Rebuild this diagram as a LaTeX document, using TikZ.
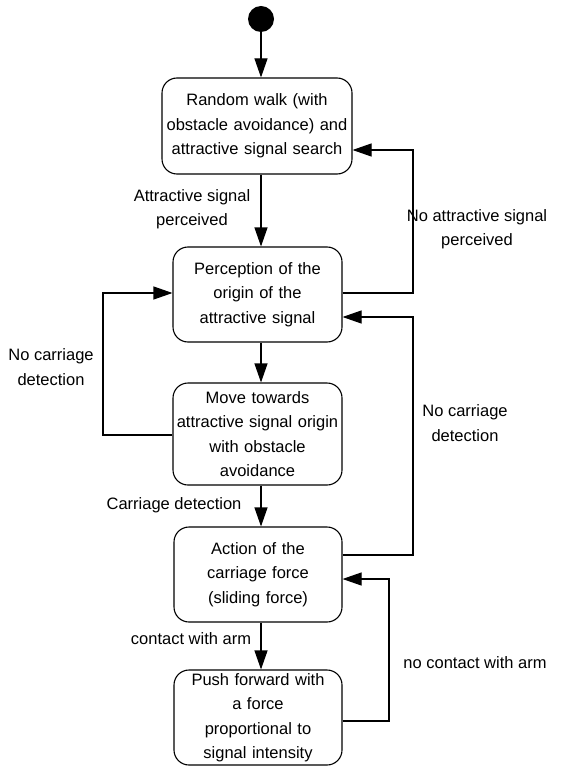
\documentclass[tikz,border=0pt]{standalone}
\usepackage{fontspec}
\setmainfont{Liberation Sans}
\usetikzlibrary{arrows.meta}
\newcommand{\diagfont}{\fontsize{16.5}{24.5}\selectfont}
\tikzset{
  state/.style={draw, rounded corners=15pt, line width=1.1pt, align=center, inner sep=0pt, font=\diagfont},
  lbl/.style={align=center, inner sep=0pt, font=\diagfont},
  arr/.style={line width=1.1pt, -{Triangle[length=19pt,width=13pt]}},
  ln/.style={line width=1.1pt}
}
\begin{document}
\begin{tikzpicture}[x=1pt,y=1pt]
\useasboundingbox (0,0) rectangle (570,-767);
\node[circle, fill=black, minimum size=26pt, inner sep=0pt] (start) at (261,-19) {};
\node[state, text width=190pt, minimum height=96pt] (b1) at (257,-126) {Random walk (with\\obstacle avoidance) and\\attractive signal search};
\node[state, text width=169pt, minimum height=95pt] (b2) at (257.5,-294.5) {Perception of the\\origin of the\\attractive signal};
\node[state, text width=169pt, minimum height=102pt] (b3) at (257.5,-434) {Move towards\\attractive signal origin\\with obstacle\\avoidance};
\node[state, text width=168pt, minimum height=95pt] (b4) at (258,-574.5) {Action of the\\carriage force\\(sliding force)};
\node[state, text width=168pt, minimum height=95pt] (b5) at (258,-717.5) {Push forward with\\a force\\proportional to\\signal intensity};

% vertical flow
\draw[arr] (start) -- (b1.north -| start);
\draw[arr] (b1.south -| start) -- (b2.north -| start);
\draw[arr] (b2.south -| start) -- (b3.north -| start);
\draw[arr] (b3.south -| start) -- (b4.north -| start);
\draw[arr] (b4.south -| start) -- (b5.north -| start);

% corner coordinates
\coordinate (r1a) at (413,-293);
\coordinate (r1b) at (413,-150);
\coordinate (l1a) at (103,-435);
\coordinate (l1b) at (103,-293);
\coordinate (r2a) at (413,-555);
\coordinate (r2b) at (413,-317);
\coordinate (r3a) at (389,-721);
\coordinate (r3b) at (389,-579);

\draw[arr] (b2.east |- r1a) -- (r1a) -- (r1b) -- (b1.east |- r1b);
\draw[arr] (b3.west |- l1a) -- (l1a) -- (l1b) -- (b2.west |- l1b);
\draw[arr] (b4.east |- r2a) -- (r2a) -- (r2b) -- (b2.east |- r2b);
\draw[arr] (b5.east |- r3a) -- (r3a) -- (r3b) -- (b4.east |- r3b);

% labels
\node[lbl] (t1) at (192,-209) {Attractive signal\\perceived};
\node[lbl] (t2) at (477,-229) {No attractive signal\\perceived};
\node[lbl] (t3) at (51,-367) {No carriage\\detection};
\node[lbl] (t4) at (174,-505) {Carriage detection};
\node[lbl] (t5) at (465,-423) {No carriage\\detection};
\node[lbl] (t6) at (191,-639) {contact with arm};
\node[lbl] (t7) at (475,-663) {no contact with arm};
\end{tikzpicture}
\end{document}
